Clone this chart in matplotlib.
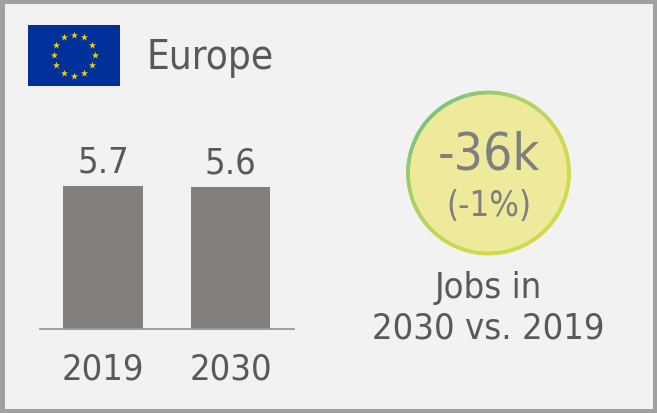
import numpy as np
import matplotlib
matplotlib.use("Agg")
import matplotlib.pyplot as plt
from matplotlib.collections import LineCollection
from matplotlib.colors import LinearSegmentedColormap
from matplotlib.patches import Circle, Rectangle

years = ["2019", "2030"]
jobs = [5.66, 5.62]
title = "Europe"
delta = "-36k"
delta_pct = "(-1%)"
caption = "Jobs in\n2030 vs. 2019"

W, H = 657, 413
FONT = {"family": "DejaVu Sans", "stretch": "condensed"}
TXT = "#595959"
GREY = "#7f7f7f"

fig = plt.figure(figsize=(W / 100, H / 100), dpi=100, facecolor="#a0a0a0")
bg = fig.add_axes([0, 0, 1, 1])
bg.set_xlim(0, W); bg.set_ylim(H, 0); bg.axis("off")
bg.add_patch(Rectangle((5, 4), W - 9, H - 8, fc="#f2f2f2", ec="none"))

# flag
bg.add_patch(Rectangle((28, 25), 92, 61, fc="#00309a", ec="none"))
a = np.deg2rad(np.arange(0, 360, 30))
bg.scatter(74 + 20.5 * np.cos(a), 55 + 20.5 * np.sin(a), marker="*", s=30, c="#f5d000", lw=0, zorder=3)

bg.text(146, 58, title, fontsize=29, color=TXT, ha="left", va="center", **FONT)

# circle
cx, cy, r = 488.5, 173, 80.5
bg.add_patch(Circle((cx, cy), r, fc="#eee99b", ec="none"))
t = np.linspace(0, 2 * np.pi, 361)
px, py = cx + r * np.cos(t), cy + r * np.sin(t)
pts = np.column_stack([px, py]).reshape(-1, 1, 2)
segs = np.concatenate([pts[:-1], pts[1:]], axis=1)
cmap = LinearSegmentedColormap.from_list("ring", ["#5ab98f", "#a8d06a", "#cddb4c"])
mx, my = (px[:-1] + px[1:]) / 2, (py[:-1] + py[1:]) / 2
g = ((mx - (cx - r)) + (my - (cy - r))) / (3.0 * r)
lc = LineCollection(segs, colors=cmap(np.clip(g / 0.85, 0, 1)), linewidths=2.6, capstyle="round", zorder=3)
bg.add_collection(lc)
bg.text(489, 156, delta, fontsize=37, color=GREY, ha="center", va="center", zorder=4, **FONT)
bg.text(489, 206, delta_pct, fontsize=25, color=GREY, ha="center", va="center", zorder=4, **FONT)
bg.text(488, 308, caption, fontsize=26, color=TXT, ha="center", va="center", linespacing=1.25, **FONT)

# bars
ax = fig.add_axes([40 / W, 1 - 329 / H, (294 - 40) / W, (329 - 170) / H])
ax.patch.set_alpha(0)
x = np.arange(len(years))
bars = ax.bar(x, jobs, width=0.624, color="#837f7d")
ax.set_xlim(-0.494, 1.498)
ax.set_ylim(0, 5.66 * 159 / 143)
ax.set_xticks(x, years)
ax.tick_params(axis="x", length=0, pad=17, labelsize=26, labelcolor=TXT)
for lab in ax.get_xticklabels():
    lab.set_family("DejaVu Sans"); lab.set_stretch("condensed")
ax.set_yticks([])
for s in ("top", "left", "right"):
    ax.spines[s].set_visible(False)
ax.spines["bottom"].set_color("#999999")
ax.spines["bottom"].set_linewidth(1.3)
for b, v in zip(bars, jobs):
    ax.annotate(f"{v:.1f}", (b.get_x() + b.get_width() / 2, v), xytext=(0, 5),
                textcoords="offset points", ha="center", va="bottom",
                fontsize=26, color=TXT, **FONT)

fig.savefig("out.png", dpi=100, facecolor=fig.get_facecolor())
